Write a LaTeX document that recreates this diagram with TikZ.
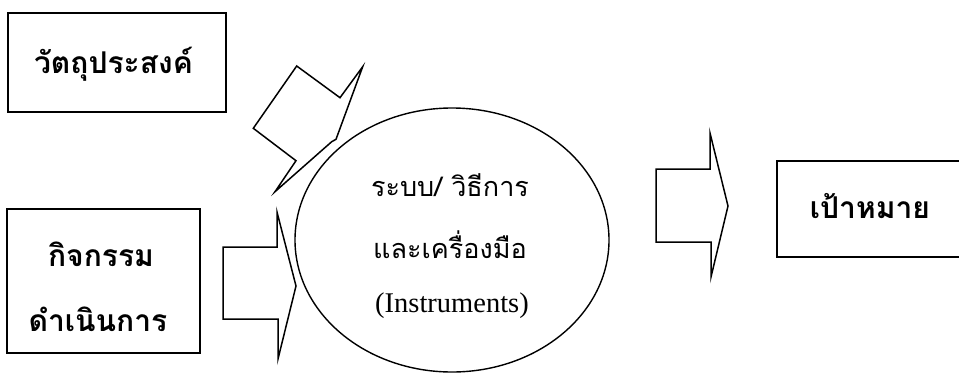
\documentclass[tikz,border=0pt]{standalone}
\usepackage{fontspec}
\setmainfont{Liberation Serif}
\newfontfamily\thai[Script=Thai]{Loma}
\usetikzlibrary{shapes.geometric}
\begin{document}
\begin{tikzpicture}[x=1pt,y=-1pt,line join=miter,
  box/.style={draw,line width=1.8pt,inner sep=0pt},
  blockarrow/.style={draw,line width=1.5pt},
  boxtext/.style={anchor=base,inner sep=0pt,font=\thai\bfseries\fontsize{30}{33}\selectfont},
  intext/.style={anchor=base,inner sep=0pt,font=\thai\fontsize{27}{30}\selectfont}]
\useasboundingbox (0,0) rectangle (959,373);
\clip (0,0) rectangle (959,373);
% boxes
\node[box,minimum width=218pt,minimum height=99pt] (obj) at (117,62.5) {};
\node[boxtext] (objt) at (113.5,73) {วัตถุประสงค์};
\node[box,minimum width=193pt,minimum height=144pt] (act) at (103.5,281) {};
\node[boxtext] (actt1) at (101,266) {กิจกรรม};
\node[boxtext] (actt2) at (98,331) {ดำเนินการ};
\node[box,minimum width=200pt,minimum height=96pt] (goal) at (877,209) {};
\node[boxtext] (goalt) at (870,218) {เป้าหมาย};
% ellipse
\node[draw,ellipse,line width=1.4pt,minimum width=314pt,minimum height=264pt] (sys) at (452,240) {};
\node[intext] (sys1) at (450,196) {ระบบ/ วิธีการ};
\node[intext] (sys2) at (450,258) {และเครื่องมือ};
\node[anchor=base,inner sep=0pt,font=\fontsize{28.5}{31}\selectfont] (sys3) at (452,312) {(Instruments)};
% block arrows
\draw[blockarrow] (296.7,66) -- (340,97.7) -- (362.7,66.7) -- (336,139.3) -- (331.7,141.7)
  -- (275,191.7) -- (296,160.7) -- (253.3,128.3) -- cycle;
\draw[blockarrow] (223,247) -- (277,247) -- (277,212) -- (296,286) -- (278,359)
  -- (278,319) -- (223,319) -- cycle;
\draw[blockarrow] (656,169) -- (710,169) -- (710,133) -- (728,206) -- (711,277)
  -- (711,242) -- (656,242) -- cycle;
\end{tikzpicture}
\end{document}
